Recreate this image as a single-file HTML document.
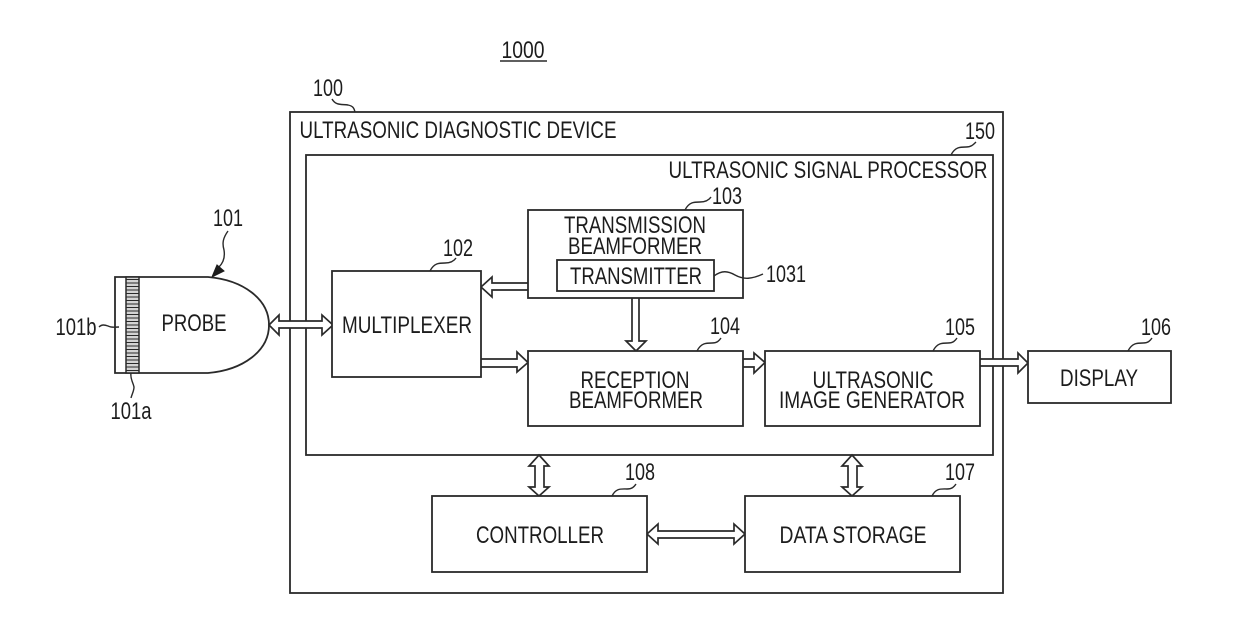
<!DOCTYPE html>
<html>
<head>
<meta charset="utf-8">
<style>
html,body{margin:0;padding:0;background:#fff;width:1240px;height:643px;overflow:hidden}
svg{display:block}
text{font-family:"Liberation Sans",sans-serif;font-size:24.5px;fill:#1c1c1c;text-anchor:middle}
.b{fill:#fff;stroke:#2a2a2a;stroke-width:1.8}
.n{fill:none;stroke:#2a2a2a;stroke-width:1.8}
.l{fill:none;stroke:#2a2a2a;stroke-width:1.4}
.a{fill:#fff;stroke:#2a2a2a;stroke-width:1.7;stroke-linejoin:miter}
</style>
</head>
<body>
<svg width="1240" height="643" viewBox="0 0 1240 643" xmlns="http://www.w3.org/2000/svg">
<rect width="1240" height="643" fill="#fff"/>

<!-- containers -->
<rect class="n" x="290" y="112" width="713" height="481"/>
<rect class="n" x="306" y="155" width="687" height="300"/>

<!-- probe -->
<path class="b" d="M115 277H208C243 280 269 299 269 325C269 351 243 370 208 373H115Z"/>
<rect x="126" y="277" width="13" height="96" fill="#d4d4d4" stroke="#2a2a2a" stroke-width="1.5"/>
<path d="M126 279.500H139M126 283H139M126 286.500H139M126 290H139M126 293.500H139M126 297H139M126 300.500H139M126 304H139M126 307.500H139M126 311H139M126 314.500H139M126 318H139M126 321.500H139M126 325H139M126 328.500H139M126 332H139M126 335.500H139M126 339H139M126 342.500H139M126 346H139M126 349.500H139M126 353H139M126 356.500H139M126 360H139M126 363.500H139M126 367H139M126 370.500H139" stroke="#2a2a2a" stroke-width="1.1" fill="none"/>

<!-- arrows -->
<path class="a" d="M269 325L279 315V321H322V315L333 325L322 335V328H279V335Z"/>
<path class="a" d="M528 283H492V277L481 287L492 297V290H528"/>
<path class="a" d="M632 298V341H626L636 351L646 341H639V298"/>
<path class="a" d="M481 359H517V352L528 362.500L517 372V367H481"/>
<path class="a" d="M743 359H754V353L765 362.500L754 373V367H743"/>
<path class="a" d="M980 359H1018V353L1028 363L1018 373V366H980"/>
<path class="a" d="M539 455L549 466H544V487H549L539 496L529 487H535V466H529Z"/>
<path class="a" d="M852 455L862 466H857V487H862L852 496L842 487H848V466H842Z"/>
<path class="a" d="M647 534L658 524V531H734V524L745 534L734 544V538H658V544Z"/>

<!-- boxes -->
<rect class="b" x="332" y="271" width="149" height="106"/>
<rect class="b" x="528" y="210" width="215" height="88"/>
<rect class="b" x="557" y="260" width="157" height="31"/>
<rect class="b" x="528" y="351" width="215" height="75"/>
<rect class="b" x="765" y="351" width="215" height="75"/>
<rect class="b" x="1028" y="351" width="143" height="52"/>
<rect class="b" x="432" y="496" width="215" height="76"/>
<rect class="b" x="745" y="496" width="215" height="76"/>

<!-- 1000 underline -->
<path d="M500 61H547" stroke="#2a2a2a" stroke-width="1.5"/>

<!-- leaders -->
<path class="l" d="M332 99C336 106 342 104 348 105C353 106 354 108 355 112"/>
<path class="l" d="M951 155C955 147 960 147 966 147C971 147 973 145 976 142"/>
<path class="l" d="M685 210C689 202 694 202 700 202C705 202 709 200 711 197"/>
<path class="l" d="M430 271C434 263 439 263 445 263C450 263 454 261 456 258"/>
<path class="l" d="M697 351C701 343 706 343 712 343C717 343 719 341 721 338"/>
<path class="l" d="M933 351C937 343 942 343 948 343C953 343 955 341 957 338"/>
<path class="l" d="M1128 351C1132 343 1137 343 1143 343C1148 343 1150 341 1152 338"/>
<path class="l" d="M612 496C616 488 621 489 627 489C632 489 634 487 636 484"/>
<path class="l" d="M932 496C936 488 941 489 947 489C952 489 954 487 956 484"/>
<path class="l" d="M714 276C722 270 728 271 735 275C744 280 752 279 763 274"/>
<path class="l" d="M99 327C102 324 105 325 108 326C112 328 115 327 119 327"/>
<path class="l" d="M131 373C130 379 133 382 134 387C134 391 132 394 131 398"/>
<path class="l" d="M228 231C223 238 222 243 224 250C225 256 224 262 219 267"/>
<path d="M212 277L217 265L224 271Z" fill="#1c1c1c" stroke="#1c1c1c" stroke-width="1"/>

<!-- labels -->
<text x="523" y="58" textLength="43" lengthAdjust="spacingAndGlyphs">1000</text>
<text x="328" y="96" textLength="30" lengthAdjust="spacingAndGlyphs">100</text>
<text x="458" y="138" textLength="317" lengthAdjust="spacingAndGlyphs">ULTRASONIC DIAGNOSTIC DEVICE</text>
<text x="980" y="139" textLength="30" lengthAdjust="spacingAndGlyphs">150</text>
<text x="828" y="178" textLength="319" lengthAdjust="spacingAndGlyphs">ULTRASONIC SIGNAL PROCESSOR</text>
<text x="727" y="204" textLength="30" lengthAdjust="spacingAndGlyphs">103</text>
<text x="635" y="233" textLength="142" lengthAdjust="spacingAndGlyphs">TRANSMISSION</text>
<text x="635" y="254" textLength="134" lengthAdjust="spacingAndGlyphs">BEAMFORMER</text>
<text x="636" y="284" textLength="132" lengthAdjust="spacingAndGlyphs">TRANSMITTER</text>
<text x="786" y="282" textLength="40" lengthAdjust="spacingAndGlyphs">1031</text>
<text x="228" y="226" textLength="30" lengthAdjust="spacingAndGlyphs">101</text>
<text x="458" y="256" textLength="30" lengthAdjust="spacingAndGlyphs">102</text>
<text x="194" y="331" textLength="65" lengthAdjust="spacingAndGlyphs">PROBE</text>
<text x="407" y="333" textLength="130" lengthAdjust="spacingAndGlyphs">MULTIPLEXER</text>
<text x="76" y="335" textLength="41" lengthAdjust="spacingAndGlyphs">101b</text>
<text x="131" y="419" textLength="41" lengthAdjust="spacingAndGlyphs">101a</text>
<text x="725" y="334" textLength="30" lengthAdjust="spacingAndGlyphs">104</text>
<text x="960" y="335" textLength="30" lengthAdjust="spacingAndGlyphs">105</text>
<text x="1156" y="335" textLength="30" lengthAdjust="spacingAndGlyphs">106</text>
<text x="635" y="388" textLength="109" lengthAdjust="spacingAndGlyphs">RECEPTION</text>
<text x="636" y="408" textLength="134" lengthAdjust="spacingAndGlyphs">BEAMFORMER</text>
<text x="873" y="388" textLength="121" lengthAdjust="spacingAndGlyphs">ULTRASONIC</text>
<text x="872" y="408" textLength="186" lengthAdjust="spacingAndGlyphs">IMAGE GENERATOR</text>
<text x="1099" y="386" textLength="78" lengthAdjust="spacingAndGlyphs">DISPLAY</text>
<text x="640" y="480" textLength="30" lengthAdjust="spacingAndGlyphs">108</text>
<text x="960" y="480" textLength="30" lengthAdjust="spacingAndGlyphs">107</text>
<text x="540" y="543" textLength="128" lengthAdjust="spacingAndGlyphs">CONTROLLER</text>
<text x="853" y="543" textLength="147" lengthAdjust="spacingAndGlyphs">DATA STORAGE</text>
</svg>
</body>
</html>
